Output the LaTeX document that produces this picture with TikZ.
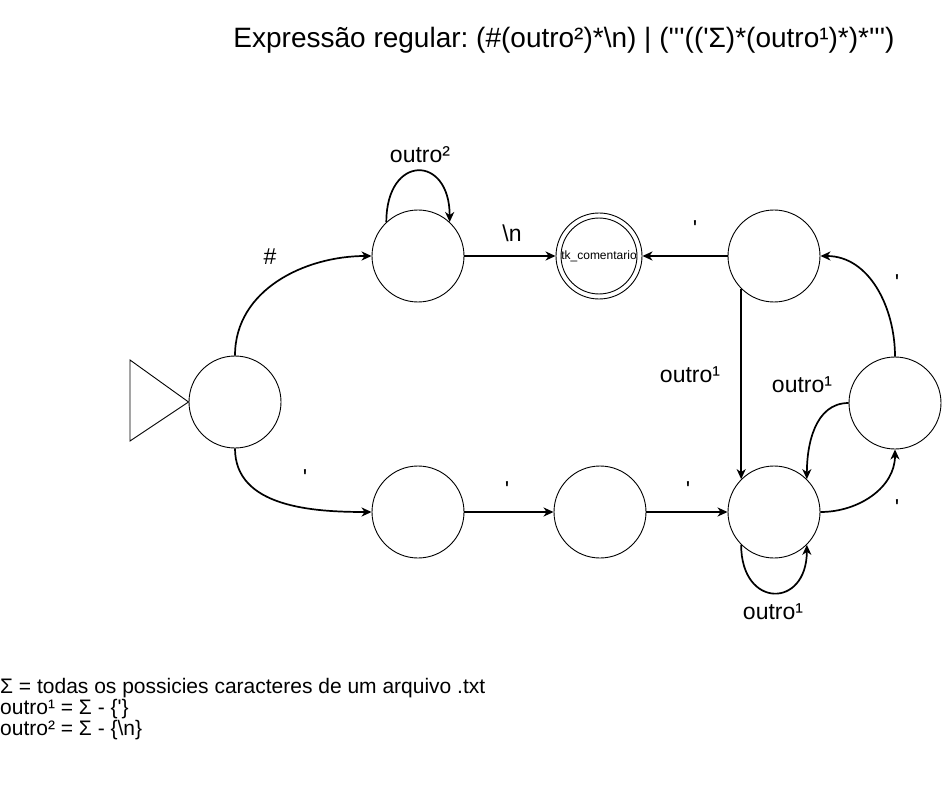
\documentclass[tikz,border=0pt]{standalone}
\usepackage{fontspec}
\newfontfamily\af{Liberation Sans}
\usetikzlibrary{arrows.meta,calc}
\frenchspacing
\begin{document}
\begin{tikzpicture}[x=1pt,y=-1pt,
  state/.style={circle,draw,line width=0.9pt,minimum size=92pt,inner sep=0pt},
  edge/.style={line width=1.7pt,-{Stealth[length=10pt,width=9pt,inset=3pt]}},
  lbl/.style={font=\af\fontsize{23}{26}\selectfont,inner sep=0pt},
  every node/.style={font=\af}]
\useasboundingbox (0,0) rectangle (942,786);
\node[font=\af\fontsize{28}{34}\selectfont,inner sep=0pt] (title) at (564,40) {Expressão regular: (\#(outro²)*\textbackslash n) | ('''(('Σ)*(outro¹)*)*''')};
% states
\node[state] (q0) at (235,402) {};
\node[state] (q1) at (418,256) {};
\node[circle,draw,line width=0.9pt,minimum size=86pt,inner sep=0pt] (qf) at (599,256) {};
\node[circle,draw,line width=0.9pt,minimum size=75pt,inner sep=0pt,font=\af\fontsize{12}{14}\selectfont] (qfi) at (599,256) {tk\_comentario};
\node[state] (qA) at (774,256) {};
\node[state] (qB) at (895,403) {};
\node[state] (q2) at (418,512) {};
\node[state] (q3) at (600,512) {};
\node[state] (qC) at (774,512) {};
% start triangle
\coordinate (t1) at (130,360);
\coordinate (t2) at (130,441);
\draw[line width=0.9pt] (t1) -- (q0.west) -- (t2) -- cycle;
% edges
\draw[edge] (q0.north) to[out=90,in=180] (q1.west);
\draw[edge] (q1.133) .. controls ($(q1.133)+(0,-68)$) and ($(q1.47)+(0,-68)$) .. (q1.47);
\draw[edge] (q1.east) -- (qf.west);
\draw[edge] (qA.west) -- (qf.east);
\draw[edge] (qA.225) -- (qC.135);
\draw[edge] (qB.north) to[out=90,in=0] (qA.east);
\draw[edge] (qB.west) to[out=180,in=90] (qC.45);
\draw[edge] (qC.east) to[out=0,in=-90] (qB.south);
\draw[edge] (qC.225) .. controls ($(qC.225)+(0,64)$) and ($(qC.-45)+(0,64)$) .. (qC.-45);
\draw[edge] (q0.south) to[out=-90,in=180] (q2.west);
\draw[edge] (q2.east) -- (q3.west);
\draw[edge] (q3.east) -- (qC.west);
% labels
\node[lbl] (l1) at (420,155) {outro²};
\node[lbl] (l2) at (270,257) {\#};
\node[lbl] (l3) at (512,233) {\textbackslash n};
\node[lbl] (l4) at (695,229) {'};
\node[lbl] (l5) at (897,283) {'};
\node[lbl] (l6) at (690,375) {outro¹};
\node[lbl] (l7) at (802,385) {outro¹};
\node[lbl] (l8) at (305,478) {'};
\node[lbl] (l9) at (507,490) {'};
\node[lbl] (l10) at (688,490) {'};
\node[lbl] (l11) at (897,508) {'};
\node[lbl] (l12) at (773,612) {outro¹};
% legend
\node[font=\af\fontsize{21}{21}\selectfont,inner sep=0pt,anchor=west,align=left] (legend) at (0,709) {Σ = todas os possicies caracteres de um arquivo .txt\\outro¹ = Σ - \{'\}\\outro² = Σ - \{\textbackslash n\}};
\end{tikzpicture}
\end{document}
